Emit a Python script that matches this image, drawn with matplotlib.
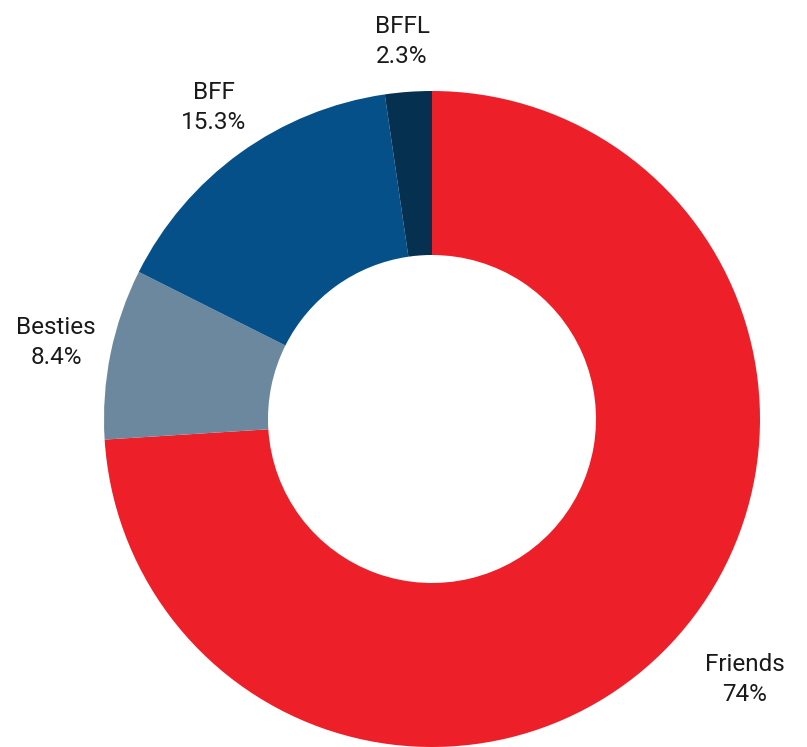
import numpy as np
import matplotlib
matplotlib.use('Agg')
import matplotlib.pyplot as plt

labels = ['Friends', 'Besties', 'BFF', 'BFFL']
values = [74.0, 8.4, 15.3, 2.3]
pct_text = ['74%', '8.4%', '15.3%', '2.3%']
colors = ['#ED1F28', '#6B889E', '#055089', '#06304F']

plt.rcParams['font.family'] = ['Roboto', 'DejaVu Sans']

fig = plt.figure(figsize=(8.07, 7.47), dpi=100)
# circle centre ~ (432, 419) px, radius ~ 328 px
ax = fig.add_axes([104 / 807, 0.0, 656 / 807, 656 / 747])

wedges, _ = ax.pie(values, colors=colors, startangle=90, counterclock=False,
                   radius=1.0, wedgeprops=dict(width=0.5, edgecolor='none'))
# pie resets the limits, so set them afterwards
ax.set_xlim(-1, 1)
ax.set_ylim(-1, 1)
ax.set_aspect('equal')
ax.axis('off')

# label distance and small angle nudge (degrees) per slice
label_dist = [1.24, 1.17, 1.16, 1.155]
label_nudge = [3.4, 0.0, -0.8, 0.4]
for w, lab, pct, d, nd in zip(wedges, labels, pct_text, label_dist, label_nudge):
    ang = np.deg2rad((w.theta1 + w.theta2) / 2 + nd)
    ax.text(d * np.cos(ang), d * np.sin(ang), f'{lab}\n{pct}',
            ha='center', va='center', fontsize=17.5, linespacing=1.4,
            color='#1a1a1a', clip_on=False)

fig.savefig('out.png', dpi=100)
